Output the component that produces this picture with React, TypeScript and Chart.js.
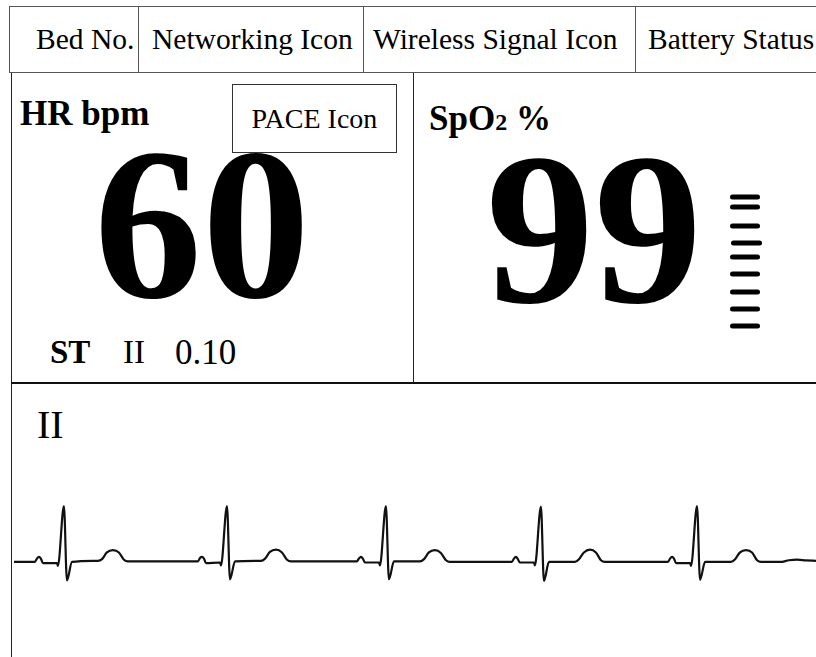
import React, { useEffect, useRef } from "react";
import { Chart, registerables } from "chart.js";

Chart.register(...registerables);

// ---- Header cells ----
const headerLabels = ["Bed No.", "Networking Icon", "Wireless Signal Icon", "Battery Status"];

// ---- Vital readings ----
const hrValue = "60";
const spo2Value = "99";
const stLead = "II";
const stValue = "0.10";
const ecgLead = "II";

// ---- ECG lead II trace (time in ms, amplitude in mV) ----
const ecgTimeMs = [
  0,
  132, 145, 158, 170, 183, 272, 278, 316, 335, 367, 531, 557, 588, 626, 664, 696, 721,
  1164, 1177, 1190, 1202, 1215, 1304, 1310, 1348, 1367, 1399, 1563, 1589, 1620, 1658, 1696, 1728, 1753,
  2170, 2183, 2196, 2208, 2221, 2310, 2316, 2354, 2373, 2405, 2569, 2595, 2626, 2664, 2702, 2734, 2759,
  3151, 3164, 3177, 3189, 3202, 3291, 3297, 3335, 3354, 3386, 3550, 3576, 3607, 3645, 3683, 3715, 3740,
  4139, 4152, 4165, 4177, 4190, 4279, 4285, 4323, 4342, 4374, 4538, 4564, 4595, 4633, 4671, 4703, 4728,
  4849, 4905, 4956, 5010, 5076,
];
const ecgMv = [
  0,
  0, 0.06, 0.09, 0.06, -0.02, -0.02, -0.07, 1.0, -0.33, 0, 0.02, 0.05, 0.17, 0.21, 0.17, 0.04, 0.01,
  0.01, 0.07, 0.09, 0.06, -0.02, -0.01, -0.06, 1.0, -0.31, 0.01, 0.02, 0.06, 0.18, 0.22, 0.17, 0.04, 0.01,
  0.01, 0.06, 0.09, 0.06, -0.01, -0.01, -0.06, 1.0, -0.31, 0.01, 0.01, 0.05, 0.17, 0.21, 0.16, 0.03, 0.0,
  0.0, 0.06, 0.09, 0.05, -0.01, -0.01, -0.06, 0.99, -0.34, 0.0, 0.0, 0.05, 0.17, 0.22, 0.17, 0.03, 0.0,
  0.0, 0.06, 0.09, 0.06, -0.02, -0.02, -0.07, 1.0, -0.32, 0.0, 0.0, 0.05, 0.17, 0.21, 0.17, 0.03, 0.0,
  0.0, 0.03, 0.04, 0.03, 0.02,
];

// ---- SpO2 signal bar indicator (level position, bar start, bar end) ----
const barLevels = [12, 22, 41, 58, 72, 89, 107, 124, 141];
const barStarts = [12.5, 12.5, 12.5, 13.5, 12.5, 12.5, 12.5, 12.5, 12.5];
const barEnds = [37.5, 37.5, 37.5, 39.5, 37.5, 37.5, 37.5, 37.5, 37.5];

const SERIF = '"Liberation Serif", "Times New Roman", serif';

function EcgChart() {
  const ref = useRef<HTMLCanvasElement | null>(null);
  useEffect(() => {
    if (!ref.current) return;
    const data = ecgTimeMs.map((t, i) => ({ x: t, y: ecgMv[i] }));
    const chart = new Chart(ref.current, {
      type: "line",
      data: {
        datasets: [
          {
            data,
            borderColor: "#111111",
            borderWidth: 2.2,
            pointRadius: 0,
            fill: false,
            cubicInterpolationMode: "monotone",
          },
        ],
      },
      options: {
        animation: false,
        responsive: false,
        layout: { padding: 0 },
        plugins: { legend: { display: false }, tooltip: { enabled: false } },
        scales: {
          x: { type: "linear", display: false, min: 0, max: 5076 },
          y: { display: false, min: -0.68, max: 1.465 },
        },
      },
    });
    return () => chart.destroy();
  }, []);
  return (
    <canvas
      ref={ref}
      width={802}
      height={120}
      style={{ position: "absolute", left: 14, top: 480, width: 802, height: 120 }}
    />
  );
}

function BarIndicator() {
  const ref = useRef<HTMLCanvasElement | null>(null);
  useEffect(() => {
    if (!ref.current) return;
    const datasets = barLevels.map((lv, i) => ({
      data: [
        { x: barStarts[i], y: lv },
        { x: barEnds[i], y: lv },
      ],
      borderColor: "#000000",
      borderWidth: 5,
      borderCapStyle: "round" as const,
      pointRadius: 0,
      fill: false,
    }));
    const chart = new Chart(ref.current, {
      type: "line",
      data: { datasets },
      options: {
        animation: false,
        responsive: false,
        layout: { padding: 0 },
        plugins: { legend: { display: false }, tooltip: { enabled: false } },
        scales: {
          x: { type: "linear", display: false, min: 0, max: 50 },
          y: { type: "linear", display: false, min: 0, max: 155, reverse: true },
        },
      },
    });
    return () => chart.destroy();
  }, []);
  return (
    <canvas
      ref={ref}
      width={50}
      height={155}
      style={{ position: "absolute", left: 720, top: 185, width: 50, height: 155 }}
    />
  );
}

export default function App() {
  const abs = (s: React.CSSProperties): React.CSSProperties => ({ position: "absolute", ...s });
  const cellEdges = [9, 138, 363, 635, 825];
  const textPad = [26, 13, 9, 12];
  return (
    <div
      style={abs({
        left: 0,
        top: 0,
        width: 816,
        height: 657,
        overflow: "hidden",
        background: "#ffffff",
        fontFamily: SERIF,
        color: "#000",
      })}
    >
      {/* Header row */}
      {headerLabels.map((lab, i) => (
        <div
          key={lab}
          style={abs({
            left: cellEdges[i],
            top: 6,
            width: cellEdges[i + 1] - cellEdges[i],
            height: 67,
            boxSizing: "border-box",
            borderTop: "1px solid #555",
            borderBottom: "1px solid #555",
            borderLeft: "1px solid #555",
            display: "flex",
            alignItems: "center",
            justifyContent: "flex-start",
            paddingLeft: textPad[i],
            fontSize: 29.5,
            lineHeight: 1,
            whiteSpace: "nowrap",
          })}
        >
          {lab}
        </div>
      ))}

      {/* Panel borders */}
      <div style={abs({ left: 11, top: 73, width: 1, height: 584, background: "#222" })} />
      <div style={abs({ left: 413, top: 73, width: 1, height: 310, background: "#222" })} />
      <div style={abs({ left: 11, top: 382, width: 805, height: 2, background: "#111" })} />

      {/* HR panel */}
      <div style={abs({ left: 20, top: 96, fontSize: 35, fontWeight: "bold", lineHeight: 1, whiteSpace: "nowrap" })}>
        HR bpm
      </div>
      <div
        style={abs({
          left: 232,
          top: 84,
          width: 165,
          height: 69,
          boxSizing: "border-box",
          border: "1px solid #333",
          display: "flex",
          alignItems: "center",
          justifyContent: "center",
          fontSize: 28,
          lineHeight: 1,
          whiteSpace: "nowrap",
        })}
      >
        PACE Icon
      </div>
      <div
        style={abs({
          left: 94,
          width: 216,
          top: 153.8,
          height: 142,
          textAlign: "center",
          fontSize: 216,
          fontWeight: "bold",
          lineHeight: 0.66,
          whiteSpace: "nowrap",
        })}
      >
        {hrValue}
      </div>
      <div style={abs({ left: 50, top: 335.5, fontSize: 33, fontWeight: "bold", lineHeight: 1 })}>ST</div>
      <div style={abs({ left: 123, top: 335.5, fontSize: 33, lineHeight: 1 })}>{stLead}</div>
      <div style={abs({ left: 175, top: 334.5, fontSize: 35, lineHeight: 1 })}>{stValue}</div>

      {/* SpO2 panel */}
      <div style={abs({ left: 429, top: 100.7, fontSize: 35, fontWeight: "bold", lineHeight: 1, whiteSpace: "nowrap" })}>
        SpO<span style={{ fontSize: 24 }}>2</span> %
      </div>
      <div
        style={abs({
          left: 486,
          width: 216,
          top: 158.8,
          height: 142,
          textAlign: "center",
          fontSize: 216,
          fontWeight: "bold",
          lineHeight: 0.66,
          whiteSpace: "nowrap",
        })}
      >
        {spo2Value}
      </div>
      <BarIndicator />

      {/* ECG panel */}
      <div style={abs({ left: 37, top: 404.5, fontSize: 40, lineHeight: 1 })}>{ecgLead}</div>
      <EcgChart />
    </div>
  );
}
